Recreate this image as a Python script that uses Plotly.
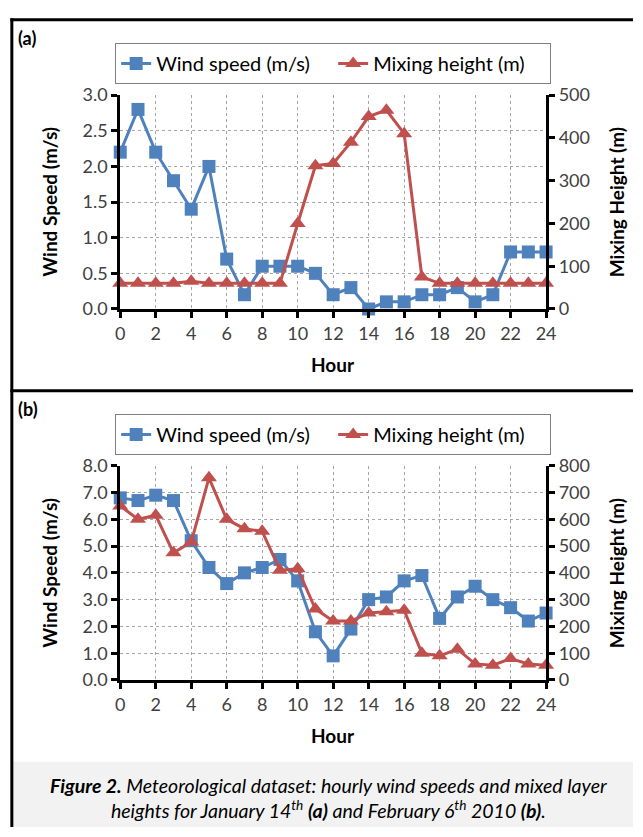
import plotly.graph_objects as go

# ---------------- data ----------------
hours = list(range(25))
wind_a = [2.2, 2.8, 2.2, 1.8, 1.4, 2.0, 0.7, 0.2, 0.6, 0.6, 0.6, 0.5, 0.2, 0.3, 0.0,
          0.1, 0.1, 0.2, 0.2, 0.3, 0.1, 0.2, 0.8, 0.8, 0.8]
mix_a = [60, 60, 60, 60, 65, 60, 60, 60, 60, 60, 200, 335, 340, 390, 450,
         465, 410, 75, 60, 60, 60, 60, 60, 60, 60]
wind_b = [6.8, 6.7, 6.9, 6.7, 5.2, 4.2, 3.6, 4.0, 4.2, 4.5, 3.7, 1.8, 0.9, 1.9, 3.0,
          3.1, 3.7, 3.9, 2.3, 3.1, 3.5, 3.0, 2.7, 2.2, 2.5]
mix_b = [650, 600, 615, 475, 515, 755, 600, 565, 555, 410, 415, 265, 220, 220, 250,
         255, 260, 100, 90, 115, 60, 55, 80, 60, 55]

W, H = 643, 837
def fx(p): return p / W
def fy(p): return 1 - p / H

BLUE = "#4F81BD"
RED = "#C0504D"
FONT = "Lato"
TICKC = "#404040"
GRID = "#A6A6A6"

fig = go.Figure()

def add_panel(fig, xa, ya, ya2, wind, mix, legend):
    fig.add_trace(go.Scatter(x=hours, y=wind, name="Wind speed (m/s)", mode="lines+markers",
                             line=dict(color=BLUE, width=3),
                             marker=dict(symbol="square", size=13, color=BLUE),
                             xaxis=xa, yaxis=ya, cliponaxis=False, legend=legend))
    fig.add_trace(go.Scatter(x=hours, y=mix, name="Mixing height (m)", mode="lines+markers",
                             line=dict(color=RED, width=3),
                             marker=dict(symbol="triangle-up", size=14, color=RED),
                             xaxis=xa, yaxis=ya2, cliponaxis=False, legend=legend))

add_panel(fig, "x", "y", "y2", wind_a, mix_a, "legend")
add_panel(fig, "x2", "y3", "y4", wind_b, mix_b, "legend2")

xdom = [fx(118), fx(554)]
dom_a = [fy(305), fy(85.4)]
dom_b = [fy(686), fy(466)]

common_x = dict(range=[0, 24], dtick=2, tick0=0, showline=True, linecolor="black", linewidth=3,
                ticks="outside", ticklen=6, tickwidth=3, tickcolor="black",
                showgrid=True, gridcolor=GRID, griddash="dot", gridwidth=1,
                tickfont=dict(family=FONT, size=18, color=TICKC), zeroline=False,
                domain=xdom, fixedrange=True, ticklabelstandoff=0)
common_y = dict(showline=True, linecolor="black", linewidth=3,
                ticks="outside", ticklen=6, tickwidth=3, tickcolor="black",
                tickfont=dict(family=FONT, size=18, color=TICKC), zeroline=False,
                fixedrange=True)

leg = dict(orientation="h", x=fx(336), xanchor="center", yanchor="middle",
           bordercolor="#808080", borderwidth=1, bgcolor="white",
           font=dict(family=FONT, size=20, color="black"),
           entrywidth=172, entrywidthmode="pixels", itemwidth=30)

fig.update_layout(
    width=W, height=H, autosize=False,
    margin=dict(l=0, r=0, t=0, b=0),
    paper_bgcolor="white", plot_bgcolor="white",
    font=dict(family=FONT, color="black"),
    xaxis=dict(anchor="y", **common_x),
    xaxis2=dict(anchor="y3", **common_x),
    yaxis=dict(domain=dom_a, anchor="x", range=[0, 3], dtick=0.5, tickformat=".1f",
               showgrid=True, gridcolor=GRID, griddash="dot", **common_y),
    yaxis2=dict(domain=dom_a, anchor="x", overlaying="y", side="right", range=[0, 500],
                dtick=100, showgrid=False, **common_y),
    yaxis3=dict(domain=dom_b, anchor="x2", range=[0, 8], dtick=1, tickformat=".1f",
                showgrid=True, gridcolor=GRID, griddash="dot", **common_y),
    yaxis4=dict(domain=dom_b, anchor="x2", overlaying="y3", side="right", range=[0, 800],
                dtick=100, showgrid=False, **common_y),
    legend=dict(y=fy(53), **leg),
    legend2=dict(y=fy(434), **leg),
    showlegend=True,
)

# frame lines and caption background
shapes = [
    dict(type="rect", xref="paper", yref="paper", x0=fx(8), x1=1, y0=0, y1=fy(770),
         fillcolor="#F2F2F2", line=dict(width=0), layer="below"),
    dict(type="line", xref="paper", yref="paper", x0=fx(7), x1=fx(7), y0=0, y1=fy(6.5),
         line=dict(color="black", width=3)),
    dict(type="line", xref="paper", yref="paper", x0=fx(5.5), x1=1, y0=fy(8), y1=fy(8),
         line=dict(color="black", width=3)),
    dict(type="line", xref="paper", yref="paper", x0=fx(5.5), x1=1, y0=fy(389), y1=fy(389),
         line=dict(color="black", width=3)),
]
fig.update_layout(shapes=shapes)

ann = []
def A(text, x, y, size=19, angle=0, xanchor="center", color="black"):
    ann.append(dict(text=text, x=fx(x), y=fy(y), xref="paper",
                    yref="paper", showarrow=False, textangle=angle, xanchor=xanchor,
                    yanchor="middle", font=dict(family=FONT, size=size, color=color)))

A("<b>(a)</b>", 11, 27, size=18, xanchor="left")
A("<b>(b)</b>", 11, 408, size=18, xanchor="left")
for off in (0, 381):
    A("<b>Wind Speed (m/s)</b>", 46, 195 + off, angle=-90)
    A("<b>Mixing Height (m)</b>", 626, 195 + off, angle=-90)
    A("<b>Hour</b>", 336, 362 + off)

A("<b><i>Figure 2.</i></b><i> Meteorological dataset: hourly wind speeds and mixed layer</i><br>"
  "<i>heights for January 14<sup>th</sup> <b>(a)</b> and February 6<sup>th</sup> 2010 <b>(b)</b>.</i>",
  331, 807, size=19.5)
fig.update_layout(annotations=ann)

fig.write_html("out.html", config={"displayModeBar": False},
               post_script="document.body.style.margin='0';"
                           "document.documentElement.style.overflow='hidden';")
